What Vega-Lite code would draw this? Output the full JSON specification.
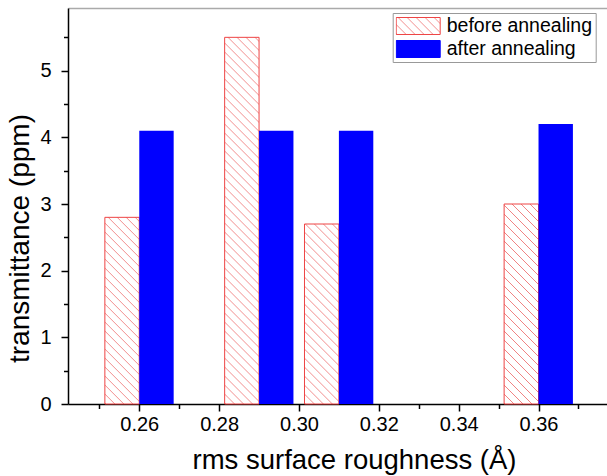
{
  "$schema": "https://vega.github.io/schema/vega-lite/v6.json",
  "width": 539,
  "height": 396,
  "autosize": "none",
  "padding": {"left": 68, "top": 8, "right": 0, "bottom": 72},
  "config": {"view": {"stroke": null}, "font": "Liberation Sans", "axis": {"labelFontSize": 20}},
  "data": {"values": [
    {"x": 0.26, "series": "before annealing", "t": 2.8},
    {"x": 0.29, "series": "before annealing", "t": 5.5},
    {"x": 0.31, "series": "before annealing", "t": 2.7},
    {"x": 0.36, "series": "before annealing", "t": 3.0},
    {"x": 0.26, "series": "after annealing", "t": 4.1},
    {"x": 0.29, "series": "after annealing", "t": 4.1},
    {"x": 0.31, "series": "after annealing", "t": 4.1},
    {"x": 0.36, "series": "after annealing", "t": 4.2}
  ]},
  "resolve": {"axis": {"x": "independent", "y": "independent"}},
  "layer": [
    {
      "transform": [{"filter": "datum.series === 'before annealing' && datum.x === 0.26"}],
      "mark": {"type": "bar", "width": 34.4, "xOffset": -17.2, "stroke": "#ee4444", "strokeWidth": 1,
        "fill": {"gradient": "linear", "x1": 0, "y1": 1, "x2": 0.4297, "y2": -1.3315, "stops": [
{"offset":0,"color":"#fff"},{"offset":0.002,"color":"#f08080"},{"offset":0.004,"color":"#fff"},
{"offset":0.02,"color":"#fff"},{"offset":0.022,"color":"#f08080"},{"offset":0.024,"color":"#fff"},
{"offset":0.04,"color":"#fff"},{"offset":0.042,"color":"#f08080"},{"offset":0.044,"color":"#fff"},
{"offset":0.06,"color":"#fff"},{"offset":0.062,"color":"#f08080"},{"offset":0.064,"color":"#fff"},
{"offset":0.08,"color":"#fff"},{"offset":0.082,"color":"#f08080"},{"offset":0.084,"color":"#fff"},
{"offset":0.1,"color":"#fff"},{"offset":0.102,"color":"#f08080"},{"offset":0.104,"color":"#fff"},
{"offset":0.12,"color":"#fff"},{"offset":0.122,"color":"#f08080"},{"offset":0.124,"color":"#fff"},
{"offset":0.14,"color":"#fff"},{"offset":0.142,"color":"#f08080"},{"offset":0.144,"color":"#fff"},
{"offset":0.16,"color":"#fff"},{"offset":0.162,"color":"#f08080"},{"offset":0.164,"color":"#fff"},
{"offset":0.18,"color":"#fff"},{"offset":0.182,"color":"#f08080"},{"offset":0.184,"color":"#fff"},
{"offset":0.2,"color":"#fff"},{"offset":0.202,"color":"#f08080"},{"offset":0.204,"color":"#fff"},
{"offset":0.22,"color":"#fff"},{"offset":0.222,"color":"#f08080"},{"offset":0.224,"color":"#fff"},
{"offset":0.24,"color":"#fff"},{"offset":0.242,"color":"#f08080"},{"offset":0.244,"color":"#fff"},
{"offset":0.26,"color":"#fff"},{"offset":0.262,"color":"#f08080"},{"offset":0.264,"color":"#fff"},
{"offset":0.28,"color":"#fff"},{"offset":0.282,"color":"#f08080"},{"offset":0.284,"color":"#fff"},
{"offset":0.3,"color":"#fff"},{"offset":0.302,"color":"#f08080"},{"offset":0.304,"color":"#fff"},
{"offset":0.32,"color":"#fff"},{"offset":0.322,"color":"#f08080"},{"offset":0.324,"color":"#fff"},
{"offset":0.34,"color":"#fff"},{"offset":0.342,"color":"#f08080"},{"offset":0.344,"color":"#fff"},
{"offset":0.36,"color":"#fff"},{"offset":0.362,"color":"#f08080"},{"offset":0.364,"color":"#fff"},
{"offset":0.38,"color":"#fff"},{"offset":0.382,"color":"#f08080"},{"offset":0.384,"color":"#fff"},
{"offset":0.4,"color":"#fff"},{"offset":0.402,"color":"#f08080"},{"offset":0.404,"color":"#fff"},
{"offset":0.42,"color":"#fff"},{"offset":0.422,"color":"#f08080"},{"offset":0.424,"color":"#fff"},
{"offset":0.44,"color":"#fff"},{"offset":0.442,"color":"#f08080"},{"offset":0.444,"color":"#fff"},
{"offset":0.46,"color":"#fff"},{"offset":0.462,"color":"#f08080"},{"offset":0.464,"color":"#fff"},
{"offset":0.48,"color":"#fff"},{"offset":0.482,"color":"#f08080"},{"offset":0.484,"color":"#fff"}
        ]}},
      "encoding": {
        "x": {"field": "x", "type": "quantitative", "scale": {"domain": [0.2434, 0.3759], "nice": false, "zero": false}, "axis": null},
        "y": {"field": "t", "type": "quantitative", "scale": {"domain": [0, 5.94], "nice": false}, "axis": null}
      }
    },
    {
      "transform": [{"filter": "datum.series === 'before annealing' && datum.x === 0.29"}],
      "mark": {"type": "bar", "width": 34.4, "xOffset": -17.2, "stroke": "#ee4444", "strokeWidth": 1,
        "fill": {"gradient": "linear", "x1": 0, "y1": 1, "x2": 0.1142, "y2": -0.2168, "stops": [
{"offset":0,"color":"#fff"},{"offset":0.002,"color":"#f08080"},{"offset":0.004,"color":"#fff"},
{"offset":0.02,"color":"#fff"},{"offset":0.022,"color":"#f08080"},{"offset":0.024,"color":"#fff"},
{"offset":0.04,"color":"#fff"},{"offset":0.042,"color":"#f08080"},{"offset":0.044,"color":"#fff"},
{"offset":0.06,"color":"#fff"},{"offset":0.062,"color":"#f08080"},{"offset":0.064,"color":"#fff"},
{"offset":0.08,"color":"#fff"},{"offset":0.082,"color":"#f08080"},{"offset":0.084,"color":"#fff"},
{"offset":0.1,"color":"#fff"},{"offset":0.102,"color":"#f08080"},{"offset":0.104,"color":"#fff"},
{"offset":0.12,"color":"#fff"},{"offset":0.122,"color":"#f08080"},{"offset":0.124,"color":"#fff"},
{"offset":0.14,"color":"#fff"},{"offset":0.142,"color":"#f08080"},{"offset":0.144,"color":"#fff"},
{"offset":0.16,"color":"#fff"},{"offset":0.162,"color":"#f08080"},{"offset":0.164,"color":"#fff"},
{"offset":0.18,"color":"#fff"},{"offset":0.182,"color":"#f08080"},{"offset":0.184,"color":"#fff"},
{"offset":0.2,"color":"#fff"},{"offset":0.202,"color":"#f08080"},{"offset":0.204,"color":"#fff"},
{"offset":0.22,"color":"#fff"},{"offset":0.222,"color":"#f08080"},{"offset":0.224,"color":"#fff"},
{"offset":0.24,"color":"#fff"},{"offset":0.242,"color":"#f08080"},{"offset":0.244,"color":"#fff"},
{"offset":0.26,"color":"#fff"},{"offset":0.262,"color":"#f08080"},{"offset":0.264,"color":"#fff"},
{"offset":0.28,"color":"#fff"},{"offset":0.282,"color":"#f08080"},{"offset":0.284,"color":"#fff"},
{"offset":0.3,"color":"#fff"},{"offset":0.302,"color":"#f08080"},{"offset":0.304,"color":"#fff"},
{"offset":0.32,"color":"#fff"},{"offset":0.322,"color":"#f08080"},{"offset":0.324,"color":"#fff"},
{"offset":0.34,"color":"#fff"},{"offset":0.342,"color":"#f08080"},{"offset":0.344,"color":"#fff"},
{"offset":0.36,"color":"#fff"},{"offset":0.362,"color":"#f08080"},{"offset":0.364,"color":"#fff"},
{"offset":0.38,"color":"#fff"},{"offset":0.382,"color":"#f08080"},{"offset":0.384,"color":"#fff"},
{"offset":0.4,"color":"#fff"},{"offset":0.402,"color":"#f08080"},{"offset":0.404,"color":"#fff"},
{"offset":0.42,"color":"#fff"},{"offset":0.422,"color":"#f08080"},{"offset":0.424,"color":"#fff"},
{"offset":0.44,"color":"#fff"},{"offset":0.442,"color":"#f08080"},{"offset":0.444,"color":"#fff"},
{"offset":0.46,"color":"#fff"},{"offset":0.462,"color":"#f08080"},{"offset":0.464,"color":"#fff"},
{"offset":0.48,"color":"#fff"},{"offset":0.482,"color":"#f08080"},{"offset":0.484,"color":"#fff"},
{"offset":0.5,"color":"#fff"},{"offset":0.502,"color":"#f08080"},{"offset":0.504,"color":"#fff"},
{"offset":0.52,"color":"#fff"},{"offset":0.522,"color":"#f08080"},{"offset":0.524,"color":"#fff"},
{"offset":0.54,"color":"#fff"},{"offset":0.542,"color":"#f08080"},{"offset":0.544,"color":"#fff"},
{"offset":0.56,"color":"#fff"},{"offset":0.562,"color":"#f08080"},{"offset":0.564,"color":"#fff"},
{"offset":0.58,"color":"#fff"},{"offset":0.582,"color":"#f08080"},{"offset":0.584,"color":"#fff"},
{"offset":0.6,"color":"#fff"},{"offset":0.602,"color":"#f08080"},{"offset":0.604,"color":"#fff"},
{"offset":0.62,"color":"#fff"},{"offset":0.622,"color":"#f08080"},{"offset":0.624,"color":"#fff"},
{"offset":0.64,"color":"#fff"},{"offset":0.642,"color":"#f08080"},{"offset":0.644,"color":"#fff"},
{"offset":0.66,"color":"#fff"},{"offset":0.662,"color":"#f08080"},{"offset":0.664,"color":"#fff"},
{"offset":0.68,"color":"#fff"},{"offset":0.682,"color":"#f08080"},{"offset":0.684,"color":"#fff"},
{"offset":0.7,"color":"#fff"},{"offset":0.702,"color":"#f08080"},{"offset":0.704,"color":"#fff"},
{"offset":0.72,"color":"#fff"},{"offset":0.722,"color":"#f08080"},{"offset":0.724,"color":"#fff"},
{"offset":0.74,"color":"#fff"},{"offset":0.742,"color":"#f08080"},{"offset":0.744,"color":"#fff"},
{"offset":0.76,"color":"#fff"},{"offset":0.762,"color":"#f08080"},{"offset":0.764,"color":"#fff"},
{"offset":0.78,"color":"#fff"},{"offset":0.782,"color":"#f08080"},{"offset":0.784,"color":"#fff"},
{"offset":0.8,"color":"#fff"},{"offset":0.802,"color":"#f08080"},{"offset":0.804,"color":"#fff"},
{"offset":0.82,"color":"#fff"},{"offset":0.822,"color":"#f08080"},{"offset":0.824,"color":"#fff"},
{"offset":0.84,"color":"#fff"},{"offset":0.842,"color":"#f08080"},{"offset":0.844,"color":"#fff"},
{"offset":0.86,"color":"#fff"},{"offset":0.862,"color":"#f08080"},{"offset":0.864,"color":"#fff"},
{"offset":0.88,"color":"#fff"},{"offset":0.882,"color":"#f08080"},{"offset":0.884,"color":"#fff"}
        ]}},
      "encoding": {
        "x": {"field": "x", "type": "quantitative", "scale": {"domain": [0.2434, 0.3759], "nice": false, "zero": false}, "axis": null},
        "y": {"field": "t", "type": "quantitative", "scale": {"domain": [0, 5.94], "nice": false}, "axis": null}
      }
    },
    {
      "transform": [{"filter": "datum.series === 'before annealing' && datum.x === 0.31"}],
      "mark": {"type": "bar", "width": 34.4, "xOffset": -17.2, "stroke": "#ee4444", "strokeWidth": 1,
        "fill": {"gradient": "linear", "x1": 0, "y1": 1, "x2": 0.4609, "y2": -1.4119, "stops": [
{"offset":0,"color":"#fff"},{"offset":0.002,"color":"#f08080"},{"offset":0.004,"color":"#fff"},
{"offset":0.02,"color":"#fff"},{"offset":0.022,"color":"#f08080"},{"offset":0.024,"color":"#fff"},
{"offset":0.04,"color":"#fff"},{"offset":0.042,"color":"#f08080"},{"offset":0.044,"color":"#fff"},
{"offset":0.06,"color":"#fff"},{"offset":0.062,"color":"#f08080"},{"offset":0.064,"color":"#fff"},
{"offset":0.08,"color":"#fff"},{"offset":0.082,"color":"#f08080"},{"offset":0.084,"color":"#fff"},
{"offset":0.1,"color":"#fff"},{"offset":0.102,"color":"#f08080"},{"offset":0.104,"color":"#fff"},
{"offset":0.12,"color":"#fff"},{"offset":0.122,"color":"#f08080"},{"offset":0.124,"color":"#fff"},
{"offset":0.14,"color":"#fff"},{"offset":0.142,"color":"#f08080"},{"offset":0.144,"color":"#fff"},
{"offset":0.16,"color":"#fff"},{"offset":0.162,"color":"#f08080"},{"offset":0.164,"color":"#fff"},
{"offset":0.18,"color":"#fff"},{"offset":0.182,"color":"#f08080"},{"offset":0.184,"color":"#fff"},
{"offset":0.2,"color":"#fff"},{"offset":0.202,"color":"#f08080"},{"offset":0.204,"color":"#fff"},
{"offset":0.22,"color":"#fff"},{"offset":0.222,"color":"#f08080"},{"offset":0.224,"color":"#fff"},
{"offset":0.24,"color":"#fff"},{"offset":0.242,"color":"#f08080"},{"offset":0.244,"color":"#fff"},
{"offset":0.26,"color":"#fff"},{"offset":0.262,"color":"#f08080"},{"offset":0.264,"color":"#fff"},
{"offset":0.28,"color":"#fff"},{"offset":0.282,"color":"#f08080"},{"offset":0.284,"color":"#fff"},
{"offset":0.3,"color":"#fff"},{"offset":0.302,"color":"#f08080"},{"offset":0.304,"color":"#fff"},
{"offset":0.32,"color":"#fff"},{"offset":0.322,"color":"#f08080"},{"offset":0.324,"color":"#fff"},
{"offset":0.34,"color":"#fff"},{"offset":0.342,"color":"#f08080"},{"offset":0.344,"color":"#fff"},
{"offset":0.36,"color":"#fff"},{"offset":0.362,"color":"#f08080"},{"offset":0.364,"color":"#fff"},
{"offset":0.38,"color":"#fff"},{"offset":0.382,"color":"#f08080"},{"offset":0.384,"color":"#fff"},
{"offset":0.4,"color":"#fff"},{"offset":0.402,"color":"#f08080"},{"offset":0.404,"color":"#fff"},
{"offset":0.42,"color":"#fff"},{"offset":0.422,"color":"#f08080"},{"offset":0.424,"color":"#fff"},
{"offset":0.44,"color":"#fff"},{"offset":0.442,"color":"#f08080"},{"offset":0.444,"color":"#fff"},
{"offset":0.46,"color":"#fff"},{"offset":0.462,"color":"#f08080"},{"offset":0.464,"color":"#fff"}
        ]}},
      "encoding": {
        "x": {"field": "x", "type": "quantitative", "scale": {"domain": [0.2434, 0.3759], "nice": false, "zero": false}, "axis": null},
        "y": {"field": "t", "type": "quantitative", "scale": {"domain": [0, 5.94], "nice": false}, "axis": null}
      }
    },
    {
      "transform": [{"filter": "datum.series === 'before annealing' && datum.x === 0.36"}],
      "mark": {"type": "bar", "width": 34.4, "xOffset": -17.2, "stroke": "#ee4444", "strokeWidth": 1,
        "fill": {"gradient": "linear", "x1": 0, "y1": 1, "x2": 0.3759, "y2": -1.1854, "stops": [
{"offset":0,"color":"#fff"},{"offset":0.002,"color":"#f08080"},{"offset":0.004,"color":"#fff"},
{"offset":0.02,"color":"#fff"},{"offset":0.022,"color":"#f08080"},{"offset":0.024,"color":"#fff"},
{"offset":0.04,"color":"#fff"},{"offset":0.042,"color":"#f08080"},{"offset":0.044,"color":"#fff"},
{"offset":0.06,"color":"#fff"},{"offset":0.062,"color":"#f08080"},{"offset":0.064,"color":"#fff"},
{"offset":0.08,"color":"#fff"},{"offset":0.082,"color":"#f08080"},{"offset":0.084,"color":"#fff"},
{"offset":0.1,"color":"#fff"},{"offset":0.102,"color":"#f08080"},{"offset":0.104,"color":"#fff"},
{"offset":0.12,"color":"#fff"},{"offset":0.122,"color":"#f08080"},{"offset":0.124,"color":"#fff"},
{"offset":0.14,"color":"#fff"},{"offset":0.142,"color":"#f08080"},{"offset":0.144,"color":"#fff"},
{"offset":0.16,"color":"#fff"},{"offset":0.162,"color":"#f08080"},{"offset":0.164,"color":"#fff"},
{"offset":0.18,"color":"#fff"},{"offset":0.182,"color":"#f08080"},{"offset":0.184,"color":"#fff"},
{"offset":0.2,"color":"#fff"},{"offset":0.202,"color":"#f08080"},{"offset":0.204,"color":"#fff"},
{"offset":0.22,"color":"#fff"},{"offset":0.222,"color":"#f08080"},{"offset":0.224,"color":"#fff"},
{"offset":0.24,"color":"#fff"},{"offset":0.242,"color":"#f08080"},{"offset":0.244,"color":"#fff"},
{"offset":0.26,"color":"#fff"},{"offset":0.262,"color":"#f08080"},{"offset":0.264,"color":"#fff"},
{"offset":0.28,"color":"#fff"},{"offset":0.282,"color":"#f08080"},{"offset":0.284,"color":"#fff"},
{"offset":0.3,"color":"#fff"},{"offset":0.302,"color":"#f08080"},{"offset":0.304,"color":"#fff"},
{"offset":0.32,"color":"#fff"},{"offset":0.322,"color":"#f08080"},{"offset":0.324,"color":"#fff"},
{"offset":0.34,"color":"#fff"},{"offset":0.342,"color":"#f08080"},{"offset":0.344,"color":"#fff"},
{"offset":0.36,"color":"#fff"},{"offset":0.362,"color":"#f08080"},{"offset":0.364,"color":"#fff"},
{"offset":0.38,"color":"#fff"},{"offset":0.382,"color":"#f08080"},{"offset":0.384,"color":"#fff"},
{"offset":0.4,"color":"#fff"},{"offset":0.402,"color":"#f08080"},{"offset":0.404,"color":"#fff"},
{"offset":0.42,"color":"#fff"},{"offset":0.422,"color":"#f08080"},{"offset":0.424,"color":"#fff"},
{"offset":0.44,"color":"#fff"},{"offset":0.442,"color":"#f08080"},{"offset":0.444,"color":"#fff"},
{"offset":0.46,"color":"#fff"},{"offset":0.462,"color":"#f08080"},{"offset":0.464,"color":"#fff"},
{"offset":0.48,"color":"#fff"},{"offset":0.482,"color":"#f08080"},{"offset":0.484,"color":"#fff"},
{"offset":0.5,"color":"#fff"},{"offset":0.502,"color":"#f08080"},{"offset":0.504,"color":"#fff"},
{"offset":0.52,"color":"#fff"},{"offset":0.522,"color":"#f08080"},{"offset":0.524,"color":"#fff"}
        ]}},
      "encoding": {
        "x": {"field": "x", "type": "quantitative", "scale": {"domain": [0.2434, 0.3759], "nice": false, "zero": false}, "axis": null},
        "y": {"field": "t", "type": "quantitative", "scale": {"domain": [0, 5.94], "nice": false}, "axis": null}
      }
    },
    {
      "transform": [{"filter": "datum.series === 'after annealing'"}],
      "mark": {"type": "bar", "width": 34.4, "xOffset": 17.2},
      "encoding": {
        "x": {"field": "x", "type": "quantitative", "scale": {"domain": [0.2434, 0.3759], "nice": false, "zero": false},
          "axis": {"orient": "bottom", "values": [0.25, 0.26, 0.27, 0.28, 0.30, 0.32, 0.33, 0.34, 0.35, 0.36, 0.37],
            "labelExpr": "round(datum.value*100) % 2 === 0 ? format(datum.value, '.2f') : ''",
            "tickSize": {"condition": {"test": "round(datum.value*100) % 2 === 1", "value": 4.5}, "value": 7},
            "grid": false, "domainColor": "#000", "domainWidth": 1.5, "tickColor": "#000", "tickWidth": 1.5,
            "labelFont": "Liberation Sans", "labelFontSize": 20, "labelColor": "#000", "labelPadding": 3, "labelOverlap": false,
            "title": "rms surface roughness (Å)", "titleFont": "Liberation Sans", "titleFontSize": 27.5, "titleFontWeight": "normal",
            "titleColor": "#000", "titleX": 286, "titleY": 56, "titleBaseline": "middle", "titleAlign": "center"}},
        "y": {"field": "t", "type": "quantitative", "scale": {"domain": [0, 5.94], "nice": false},
          "axis": {"orient": "left", "values": [0, 0.5, 1, 1.5, 2, 2.5, 3, 3.5, 4, 4.5, 5, 5.5],
            "labelExpr": "datum.value % 1 === 0 ? format(datum.value, 'd') : ''",
            "tickSize": {"condition": {"test": "datum.value % 1 !== 0", "value": 4.5}, "value": 7},
            "grid": false, "domainColor": "#000", "domainWidth": 1.5, "tickColor": "#000", "tickWidth": 1.5,
            "labelFont": "Liberation Sans", "labelFontSize": 20, "labelColor": "#000", "labelPadding": 10, "labelOverlap": false,
            "title": "transmittance (ppm)", "titleFont": "Liberation Sans", "titleFontSize": 28, "titleFontWeight": "normal",
            "titleColor": "#000", "titleX": -48, "titleY": 230, "titleAngle": -90, "titleBaseline": "middle", "titleAlign": "center"}},
        "color": {"field": "series", "type": "nominal",
          "scale": {"domain": ["before annealing", "after annealing"], "range": [
            {"expr": "{gradient: 'linear', x1: 0, y1: 1, x2: 8.899, y2: -2.4386, stops: [{offset: 0, color: '#fff'}, {offset: 0.002, color: '#f08080'}, {offset: 0.004, color: '#fff'}, {offset: 0.02, color: '#fff'}, {offset: 0.022, color: '#f08080'}, {offset: 0.024, color: '#fff'}, {offset: 0.04, color: '#fff'}, {offset: 0.042, color: '#f08080'}, {offset: 0.044, color: '#fff'}, {offset: 0.06, color: '#fff'}, {offset: 0.062, color: '#f08080'}, {offset: 0.064, color: '#fff'}, {offset: 0.08, color: '#fff'}, {offset: 0.082, color: '#f08080'}, {offset: 0.084, color: '#fff'}, {offset: 0.1, color: '#fff'}, {offset: 0.102, color: '#f08080'}, {offset: 0.104, color: '#fff'}, {offset: 0.12, color: '#fff'}, {offset: 0.122, color: '#f08080'}, {offset: 0.124, color: '#fff'}]}"},
            "#0000ff"]},
          "legend": {"orient": "none", "legendX": 324.7, "legendY": 5, "title": null,
            "symbolType": "M-1,-0.386H1V0.386H-1Z", "symbolSize": 1936, "symbolStrokeWidth": 1, "clipHeight": 20,
            "rowPadding": 3, "padding": 3, "strokeColor": "#999999", "fillColor": "#ffffff",
            "labelFont": "Liberation Sans", "labelFontSize": 19.5, "labelColor": "#000", "labelOffset": 6, "labelLimit": 0,
            "encoding": {"symbols": {
              "stroke": {"condition": {"test": "datum.value === 'before annealing'", "value": "#ee4444"}, "value": "#0000ff"}
            }}}}
      }
    },
    {
      "mark": {"type": "point", "opacity": 0},
      "encoding": {
        "x": {"field": "x", "type": "quantitative", "scale": {"domain": [0.2434, 0.3759], "nice": false, "zero": false},
          "axis": {"orient": "top", "labels": false, "ticks": false, "grid": false, "domainColor": "#aaaaaa", "domainWidth": 1.5, "title": null}},
        "y": {"field": "t", "type": "quantitative", "scale": {"domain": [0, 5.94], "nice": false}, "axis": null}
      }
    }
  ]
}
